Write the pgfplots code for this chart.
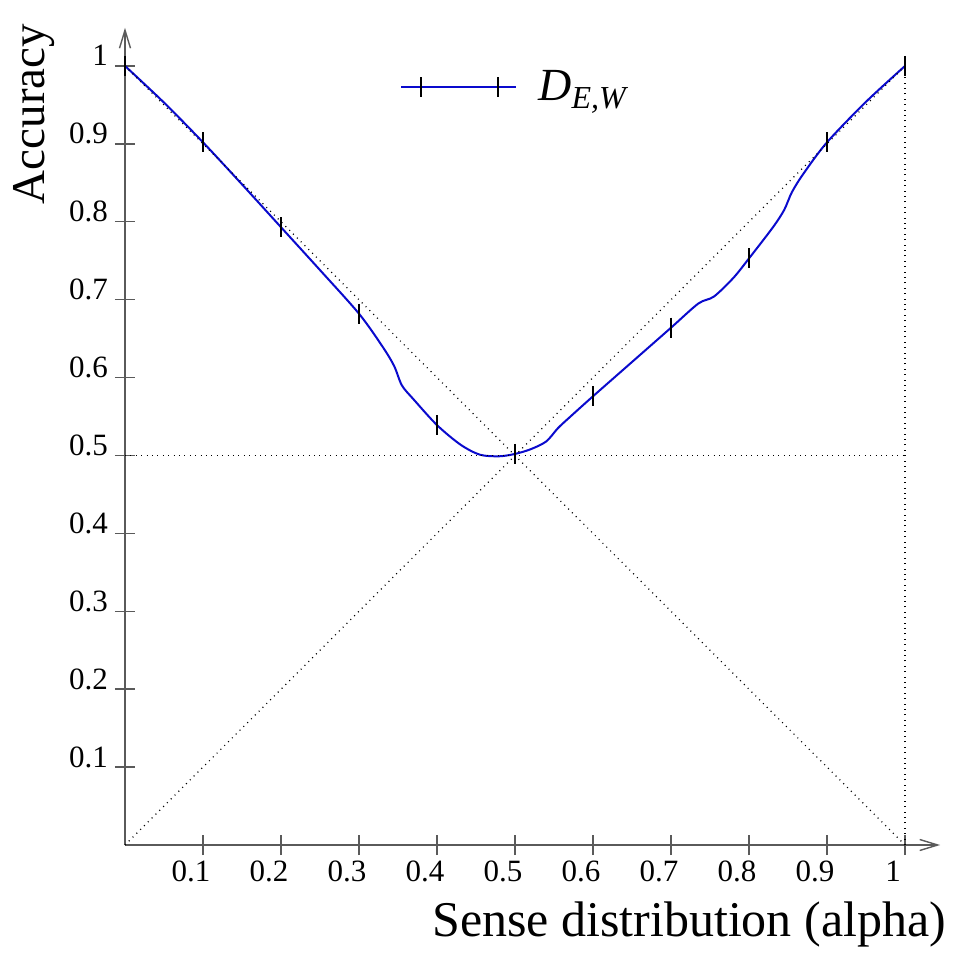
\documentclass[border=0pt]{standalone}
\usepackage{fontspec}
\setmainfont{Liberation Serif}
\usepackage{pgfplots}
\pgfplotsset{compat=1.18}
\usetikzlibrary{arrows.meta}
\definecolor{curveblue}{RGB}{10,10,205}
\definecolor{axisgray}{RGB}{90,90,90}

\begin{document}
\begin{tikzpicture}
\useasboundingbox (-62.5pt,-54pt) rectangle (414pt,422.5pt);
\begin{axis}[
  scale only axis,
  width=407.55pt, height=408.6pt,
  xmin=0, xmax=1.045, ymin=0, ymax=1.049,
  axis lines=left,
  axis line style={axisgray, line width=0.7pt,
    -{Straight Barb[length=9pt,width=5.5pt]}},
  xtick={0.1,0.2,0.3,0.4,0.5,0.6,0.7,0.8,0.9,1},
  ytick={0.1,0.2,0.3,0.4,0.5,0.6,0.7,0.8,0.9,1},
  xticklabels={0.1,0.2,0.3,0.4,0.5,0.6,0.7,0.8,0.9,1},
  yticklabels={0.1,0.2,0.3,0.4,0.5,0.6,0.7,0.8,0.9,1},
  tick align=center,
  major tick length=10pt,
  tick style={axisgray, line width=0.7pt},
  ticklabel style={font=\fontsize{15.5}{18}\selectfont},
  xticklabel style={anchor=north, xshift=-6pt, yshift=0.5pt},
  yticklabel style={anchor=base east},
  xlabel={Sense distribution (alpha)},
  ylabel={Accuracy},
  xlabel style={font=\fontsize{25}{30}\selectfont,
    at={(axis description cs:1.016,-0.1125)}, anchor=base east},
  ylabel style={font=\fontsize{23.5}{28}\selectfont, rotate=-90,
    at={(axis description cs:-0.099,1.0133)}, anchor=base east, rotate=90},
  legend style={at={(axis cs:0.3526,0.973)}, anchor=west, draw=none,
    fill=none, inner sep=0pt,
    font=\fontsize{23}{27}\selectfont},
  legend image code/.code={
    \draw[curveblue, line width=1pt] (0pt,0pt) -- (57.5pt,0pt);
    \draw[black, line width=1pt] (10pt,-5pt) -- (10pt,5pt)
      (48.5pt,-5pt) -- (48.5pt,5pt);
  },
  clip=false,
]
\addplot[curveblue, line width=1pt, smooth, tension=0.5,
  mark=|, mark size=5pt, mark options={black, line width=1pt},
  mark indices={1,3,5,7,12,16,21,23,27,32,34}]
  coordinates {
    (0,1) (0.05,0.953) (0.1,0.902) (0.15,0.848) (0.2,0.793)
    (0.25,0.738) (0.3,0.682) (0.33,0.64) (0.345,0.615) (0.355,0.59)
    (0.37,0.572) (0.4,0.539) (0.43,0.514) (0.455,0.501) (0.48,0.499)
    (0.5,0.502) (0.52,0.508) (0.54,0.518) (0.555,0.535) (0.57,0.549)
    (0.6,0.576) (0.65,0.62) (0.7,0.664) (0.735,0.695) (0.755,0.704)
    (0.78,0.728) (0.8,0.753) (0.83,0.792) (0.845,0.815) (0.855,0.838)
    (0.87,0.862) (0.9,0.902) (0.95,0.954) (1,1)
  };
\addlegendentry{\hspace*{8.5pt}\textit{D}\raisebox{-4pt}{\fontsize{16}{19}\selectfont\textit{E,W}}}

\addplot[forget plot, black, line width=0.6pt, dash pattern=on 0.5pt off 2.2pt]
  coordinates {(0,0) (1,1)};
\addplot[forget plot, black, line width=0.6pt, dash pattern=on 0.5pt off 2.2pt]
  coordinates {(0,1) (1,0)};
\addplot[forget plot, black, line width=0.6pt, dash pattern=on 0.5pt off 2.2pt]
  coordinates {(0,0.5) (1,0.5)};
\addplot[forget plot, black, line width=0.6pt, dash pattern=on 0.5pt off 2.2pt]
  coordinates {(1,0) (1,1)};
\end{axis}
\end{tikzpicture}
\end{document}
